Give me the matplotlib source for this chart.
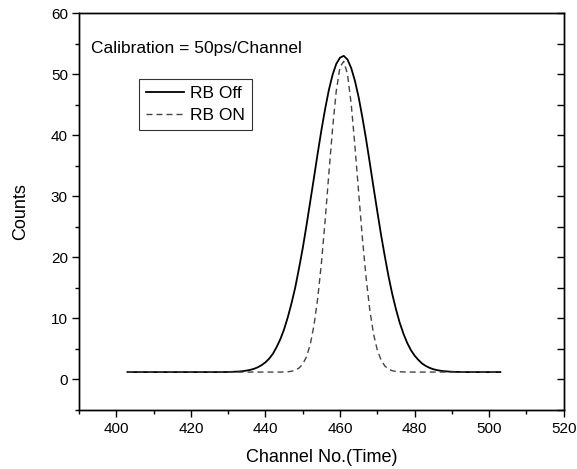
import numpy as np
import matplotlib
matplotlib.use('Agg')
from matplotlib import pyplot as plt
from matplotlib.ticker import MultipleLocator

plt.rcParams['font.family'] = ['Liberation Sans', 'DejaVu Sans']

# channel numbers (50 ps / channel)
channel = np.arange(403, 504)

# RB Off counts, channels 403..503
rb_off = [1.2, 1.2, 1.2, 1.2, 1.2, 1.2, 1.2, 1.2, 1.2, 1.2,       # 403-412
          1.2, 1.2, 1.2, 1.2, 1.2, 1.2, 1.2, 1.2, 1.2, 1.2,       # 413-422
          1.2, 1.2, 1.2, 1.2, 1.2, 1.2, 1.2,                      # 423-429
          1.22, 1.24, 1.26, 1.30, 1.36, 1.45, 1.57, 1.75, 2.0, 2.35,  # 430-439
          2.8, 3.4, 4.2, 5.3, 6.6, 8.2, 10.2, 12.5, 15.1, 18.2,   # 440-449
          21.5, 25.2, 29.1, 33.0, 37.0, 40.8, 44.3, 47.4, 49.9, 51.7,  # 450-459
          52.7, 53.0, 52.4, 51.0, 48.9, 46.2, 42.9, 39.3, 35.4, 31.4,  # 460-469
          27.5, 23.7, 20.2, 16.9, 14.0, 11.5, 9.3, 7.5, 6.0, 4.8,  # 470-479
          3.9, 3.2, 2.6, 2.2, 1.9, 1.67, 1.52, 1.41, 1.34, 1.29,  # 480-489
          1.25, 1.23, 1.22,                                       # 490-492
          1.2, 1.2, 1.2, 1.2, 1.2, 1.2, 1.2, 1.2, 1.2, 1.2, 1.2]  # 493-503

# RB ON counts, channels 403..503
rb_on = [1.2, 1.2, 1.2, 1.2, 1.2, 1.2, 1.2, 1.2, 1.2, 1.2,        # 403-412
         1.2, 1.2, 1.2, 1.2, 1.2, 1.2, 1.2, 1.2, 1.2, 1.2,        # 413-422
         1.2, 1.2, 1.2, 1.2, 1.2, 1.2, 1.2, 1.2, 1.2, 1.2,        # 423-432
         1.2, 1.2, 1.2, 1.2, 1.2, 1.2, 1.2, 1.2, 1.2, 1.2,        # 433-442
         1.2, 1.2,                                                # 443-444
         1.22, 1.25, 1.33, 1.5, 1.86, 2.5, 3.7, 5.7, 8.8, 13.2,   # 445-454
         19.0, 26.0, 33.7, 41.1, 47.3, 51.2, 52.1, 50.0, 45.1, 38.2,  # 455-464
         30.6, 23.1, 16.6, 11.3, 7.4, 4.8, 3.2, 2.2, 1.69, 1.42,  # 465-474
         1.30, 1.24, 1.22,                                        # 475-477
         1.2, 1.2, 1.2, 1.2, 1.2, 1.2, 1.2, 1.2, 1.2, 1.2,        # 478-487
         1.2, 1.2, 1.2, 1.2, 1.2, 1.2, 1.2, 1.2, 1.2, 1.2,        # 488-497
         1.2, 1.2, 1.2, 1.2, 1.2, 1.2]                            # 498-503

fig = plt.figure(figsize=(5.77, 4.69), dpi=100)
ax = fig.add_axes([0.137, 0.126, 0.840, 0.846])

ax.plot(channel, rb_off, '-', color='black', lw=1.3, label='RB Off')
ax.plot(channel, rb_on, '--', color='#444444', lw=1.0, dashes=(4.3, 2.9), label='RB ON')

ax.set_xlim(390, 520)
ax.set_ylim(-5, 60)
ax.xaxis.set_major_locator(MultipleLocator(20))
ax.xaxis.set_minor_locator(MultipleLocator(10))
ax.yaxis.set_major_locator(MultipleLocator(10))
ax.yaxis.set_minor_locator(MultipleLocator(5))
ax.tick_params(which='major', direction='out', length=5, width=1, labelsize=11, pad=3)
ax.tick_params(axis='x', which='major', pad=4)
ax.tick_params(which='minor', direction='out', length=3, width=1)
for s in ax.spines.values():
    s.set_linewidth(1.0)

# inward ticks on the right spine only
ax2 = ax.twinx()
ax2.set_ylim(-5, 60)
ax2.yaxis.set_major_locator(MultipleLocator(10))
ax2.yaxis.set_minor_locator(MultipleLocator(5))
ax2.tick_params(which='both', direction='in', length=5, width=1, labelright=False)
for s in ax2.spines.values():
    s.set_linewidth(1.0)

ax.set_xlabel('Channel No.(Time)', fontsize=13, labelpad=9)
ax.set_ylabel('Counts', fontsize=13, labelpad=16)

ax.text(393.1, 53.4, 'Calibration = 50ps/Channel', fontsize=12.5, va='baseline', ha='left')

leg = ax.legend(loc='upper left', bbox_to_anchor=(0.241, 0.832), bbox_transform=fig.transFigure,
                fontsize=12.5, frameon=True, fancybox=False, borderaxespad=0,
                handlelength=2.2, handletextpad=0.35, borderpad=0.4, labelspacing=0.4)
leg.get_frame().set_edgecolor('black')
leg.get_frame().set_linewidth(0.8)

plt.savefig('out.png', dpi=100)
